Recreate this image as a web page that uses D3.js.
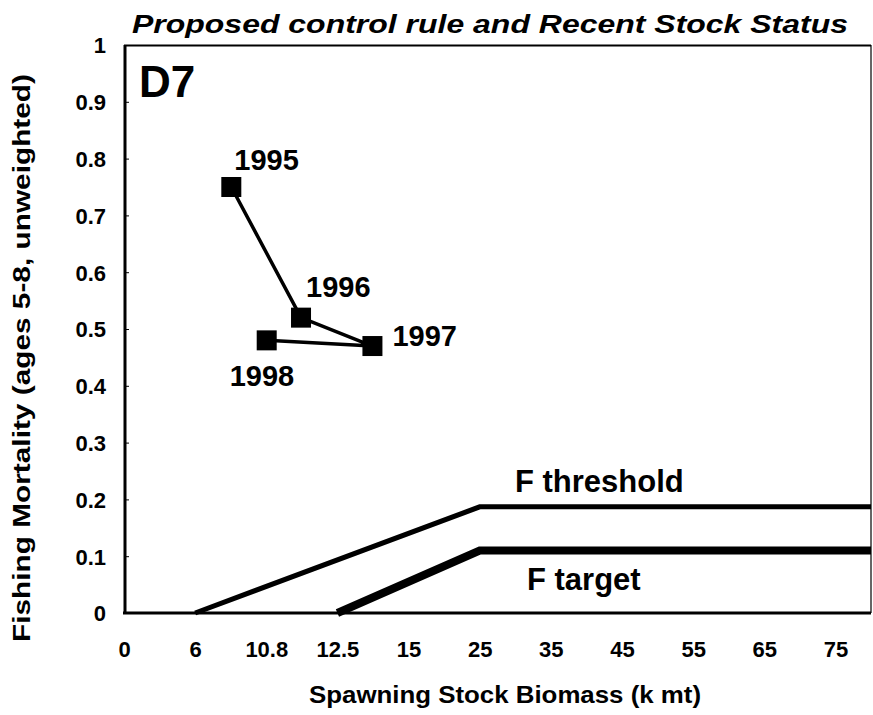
<!DOCTYPE html>
<html>
<head>
<meta charset="utf-8">
<script src="https://cdn.jsdelivr.net/npm/d3@7"></script>
<style>
  html, body { margin: 0; padding: 0; background: #fff; }
  svg { display: block; }
  text { font-family: "Liberation Sans", Arial, sans-serif; font-weight: bold; fill: #000; }
</style>
</head>
<body>
<svg id="chart" width="873" height="715"></svg>
<script>
// ---- data ----
const xTickValues = [0, 6, 10.8, 12.5, 15, 25, 35, 45, 55, 65, 75];
const xTickLabels = ["0", "6", "10.8", "12.5", "15", "25", "35", "45", "55", "65", "75"];
const xDomainEnd = 80;
const yTickValues = [0, 0.1, 0.2, 0.3, 0.4, 0.5, 0.6, 0.7, 0.8, 0.9, 1];
const yTickLabels = ["0", "0.1", "0.2", "0.3", "0.4", "0.5", "0.6", "0.7", "0.8", "0.9", "1"];
const years = ["1995", "1996", "1997", "1998"];
const ssb = [8.44, 11.63, 13.73, 10.81];
const fishingMortality = [0.75, 0.52, 0.47, 0.48];
const fThresholdSSB = [6, 25, 80];
const fThresholdF = [0, 0.187, 0.187];
const fTargetSSB = [12.5, 25, 80];
const fTargetF = [0, 0.11, 0.11];

// ---- layout ----
const svg = d3.select("#chart");
const mLeft = 124, mRight = 871, mTop = 45, mBottom = 613;
const step = (mRight - mLeft) / 10.5;

const xDomain = xTickValues.concat([xDomainEnd]);
const xRange = xDomain.map((d, i) => mLeft + (i < xTickValues.length ? i : 10.5) * step);
const x = d3.scaleLinear().domain(xDomain).range(xRange);
const y = d3.scaleLinear().domain([0, 1]).range([mBottom, mTop]);

// plot frame (top + right)
svg.append("line").attr("x1", mLeft).attr("x2", mRight).attr("y1", mTop + 0.5).attr("y2", mTop + 0.5)
  .attr("stroke", "#000").attr("stroke-width", 2);
svg.append("line").attr("x1", mRight).attr("x2", mRight).attr("y1", mTop).attr("y2", mBottom)
  .attr("stroke", "#000").attr("stroke-width", 1.2);

// axes
const xAxis = d3.axisBottom(x).tickValues(xTickValues)
  .tickFormat((d, i) => xTickLabels[i]).tickSize(0).tickPadding(0);
const gx = svg.append("g").attr("transform", `translate(0,${mBottom})`).call(xAxis);
gx.select(".domain").attr("stroke", "#000").attr("stroke-width", 3).attr("d", `M${mLeft - 1},0H${mRight}`);
gx.selectAll("text").attr("font-size", 22).attr("dy", null).attr("y", 44)
  .style("font-family", '"Liberation Sans", Arial, sans-serif').style("font-weight", "bold");

const yAxis = d3.axisLeft(y).tickValues(yTickValues)
  .tickFormat((d, i) => yTickLabels[i]).tickSize(4).tickPadding(0);
const gy = svg.append("g").attr("transform", `translate(${mLeft + 1},0)`).call(yAxis);
gy.select(".domain").attr("stroke", "#000").attr("stroke-width", 3).attr("d", `M0,${mTop}V${mBottom + 1}`);
gy.selectAll(".tick line").attr("x2", 4).attr("stroke", "#000").attr("stroke-width", 1);
gy.selectAll("text").attr("font-size", 22).attr("x", -19).attr("dy", "0.36em")
  .style("font-family", '"Liberation Sans", Arial, sans-serif').style("font-weight", "bold");

// control rule lines
const line = d3.line().x(d => x(d[0])).y(d => y(d[1]));
svg.append("path").datum(d3.zip(fThresholdSSB, fThresholdF)).attr("d", line)
  .attr("fill", "none").attr("stroke", "#000").attr("stroke-width", 5).attr("stroke-linejoin", "miter");
svg.append("path").datum(d3.zip(fTargetSSB, fTargetF)).attr("d", line)
  .attr("fill", "none").attr("stroke", "#000").attr("stroke-width", 8).attr("stroke-linejoin", "miter");

// stock status trajectory
const pts = d3.zip(ssb, fishingMortality);
svg.append("path").datum(pts).attr("d", line)
  .attr("fill", "none").attr("stroke", "#000").attr("stroke-width", 3.5);
const size = 20;
svg.selectAll("rect.pt").data(pts).join("rect").attr("class", "pt")
  .attr("x", d => x(d[0]) - size / 2).attr("y", d => y(d[1]) - size / 2)
  .attr("width", size).attr("height", size).attr("fill", "#000");

// year labels (offsets relative to marker)
const labelOffsets = [[3, -17], [5, -21], [20, 0], [-37, 46]];
svg.selectAll("text.yr").data(years).join("text").attr("class", "yr")
  .attr("x", (d, i) => x(ssb[i]) + labelOffsets[i][0])
  .attr("y", (d, i) => y(fishingMortality[i]) + labelOffsets[i][1])
  .attr("font-size", 29).text(d => d);

// line labels
svg.append("text").attr("x", 515).attr("y", 492).attr("font-size", 31).text("F threshold");
svg.append("text").attr("x", 527).attr("y", 590).attr("font-size", 31).text("F target");

// panel label
svg.append("text").attr("x", 139).attr("y", 97).attr("font-size", 44).text("D7");

// title
svg.append("text").attr("x", 132).attr("y", 33).attr("font-size", 26)
  .attr("font-style", "italic").attr("textLength", 716).attr("lengthAdjust", "spacingAndGlyphs")
  .text("Proposed control rule and Recent Stock Status");

// axis titles
svg.append("text").attr("x", 309).attr("y", 703).attr("font-size", 24)
  .attr("textLength", 392).attr("lengthAdjust", "spacingAndGlyphs")
  .text("Spawning Stock Biomass (k mt)");
svg.append("text").attr("transform", "translate(30,358) rotate(-90)")
  .attr("text-anchor", "middle").attr("font-size", 23)
  .attr("textLength", 568).attr("lengthAdjust", "spacingAndGlyphs")
  .text("Fishing Mortality (ages 5-8, unweighted)");
</script>
</body>
</html>
